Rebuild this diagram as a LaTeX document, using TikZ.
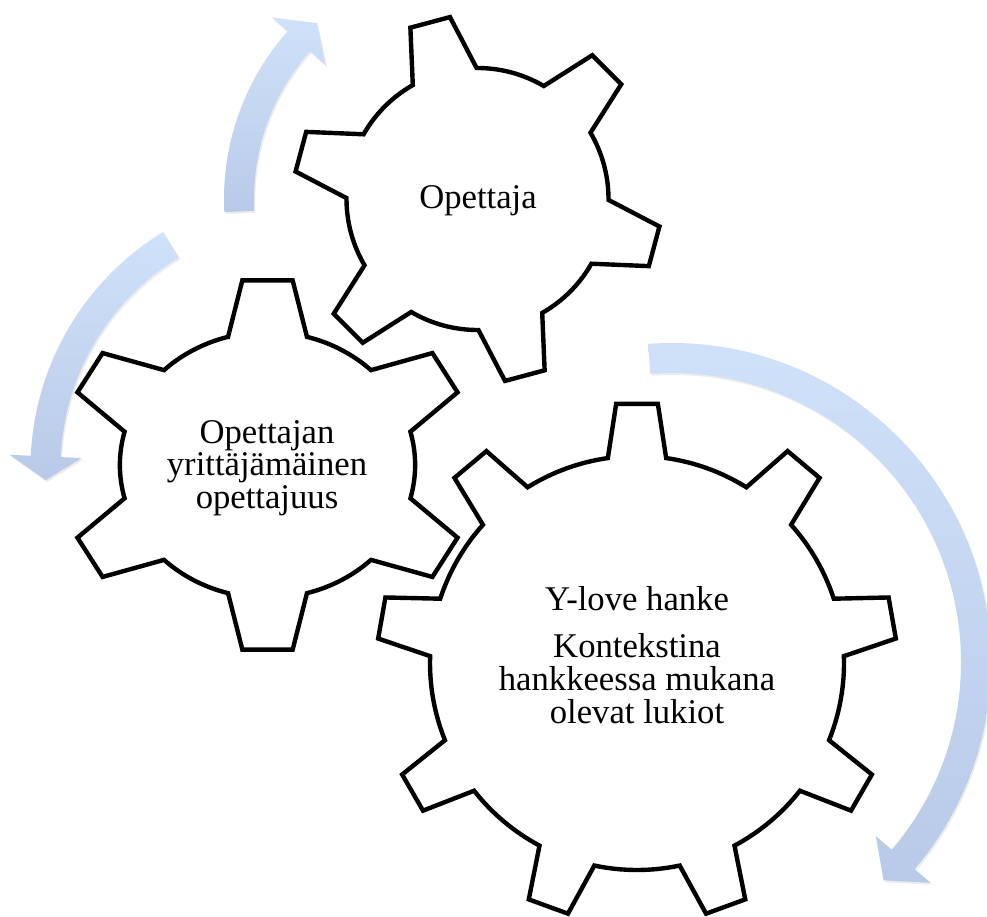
\documentclass[tikz,border=0pt]{standalone}
\usepackage{fontspec}
\setmainfont{Liberation Serif}
\usetikzlibrary{shadows}
\definecolor{arrowtop}{RGB}{208,225,250}
\definecolor{arrowbot}{RGB}{184,202,231}
\begin{document}
\begin{tikzpicture}[x=0.75pt,y=-0.75pt,
  gear/.style={draw=black,line width=3.3pt,fill=white,line join=miter},
  cycarrow/.style={top color=arrowtop,bottom color=arrowbot,draw=none,
    drop shadow={opacity=0.15,shadow xshift=1pt,shadow yshift=-1.5pt}},
  gearlabel/.style={font=\fontsize{26}{24.4}\selectfont,align=center,inner sep=0pt,text=black}]
\useasboundingbox (0,0) rectangle (987,916);

% circular arrows
\path[cycarrow,shift={(477,199)}] (-183:253) arc[start angle=-183,end angle=-138.5,radius=253]
  -- (-138.5:274) -- (-132.3:238) -- (-138.5:202) -- (-138.5:223)
  arc[start angle=-138.5,end angle=-183,radius=223] -- cycle;
\path[cycarrow,shift={(307.5,468.3)}] (-121.4:277) arc[start angle=-121.4,end angle=-177.4,radius=277]
  -- (-177.4:298) -- (-182.6:262) -- (-177.4:226) -- (-177.4:247)
  arc[start angle=-177.4,end angle=-121.4,radius=247] -- cycle;
\path[cycarrow,shift={(672,662)}] (-94.3:319) arc[start angle=-94.3,end angle=40.5,radius=319]
  -- (40.5:340) -- (45.9:304) -- (40.5:268) -- (40.5:289)
  arc[start angle=40.5,end angle=-94.3,radius=289] -- cycle;

% gears
\draw[gear,shift={(637,663)}] (-98.1:207)
  \foreach \k in {0,...,8}{
    -- ({-90+40*\k-4.6}:260) -- ({-90+40*\k+4.6}:260) -- ({-90+40*\k+8.1}:207)
    arc[start angle={-90+40*\k+8.1},end angle={-90+40*\k+31.9},radius=207]
  } -- cycle;
\draw[gear,shift={(477.5,199)}] (-119.6:131)
  \foreach \k in {0,...,5}{
    -- ({-105+60*\k-6.4}:184) -- ({-105+60*\k+6.4}:184) -- ({-105+60*\k+14.6}:131)
    arc[start angle={-105+60*\k+14.6},end angle={-105+60*\k+45.4},radius=131]
  } -- cycle;
\draw[gear,shift={(267.5,465)},xscale=1.11] (-105.5:133)
  \foreach \k in {0,...,5}{
    -- ({-90+60*\k-7}:186) -- ({-90+60*\k+7}:186) -- ({-90+60*\k+15.5}:133)
    arc[start angle={-90+60*\k+15.5},end angle={-90+60*\k+44.5},radius=133]
  } -- cycle;

% texts
\node[gearlabel,anchor=base] (opettaja) at (478,209) {Opettaja};
\node[gearlabel] (yrittajyys) at (267,468) {Opettajan\\yrittäjämäinen\\opettajuus};
\node[gearlabel] (ylove) at (637,655) {Y-love hanke\\[11pt]Kontekstina\\hankkeessa mukana\\olevat lukiot};
\end{tikzpicture}
\end{document}
